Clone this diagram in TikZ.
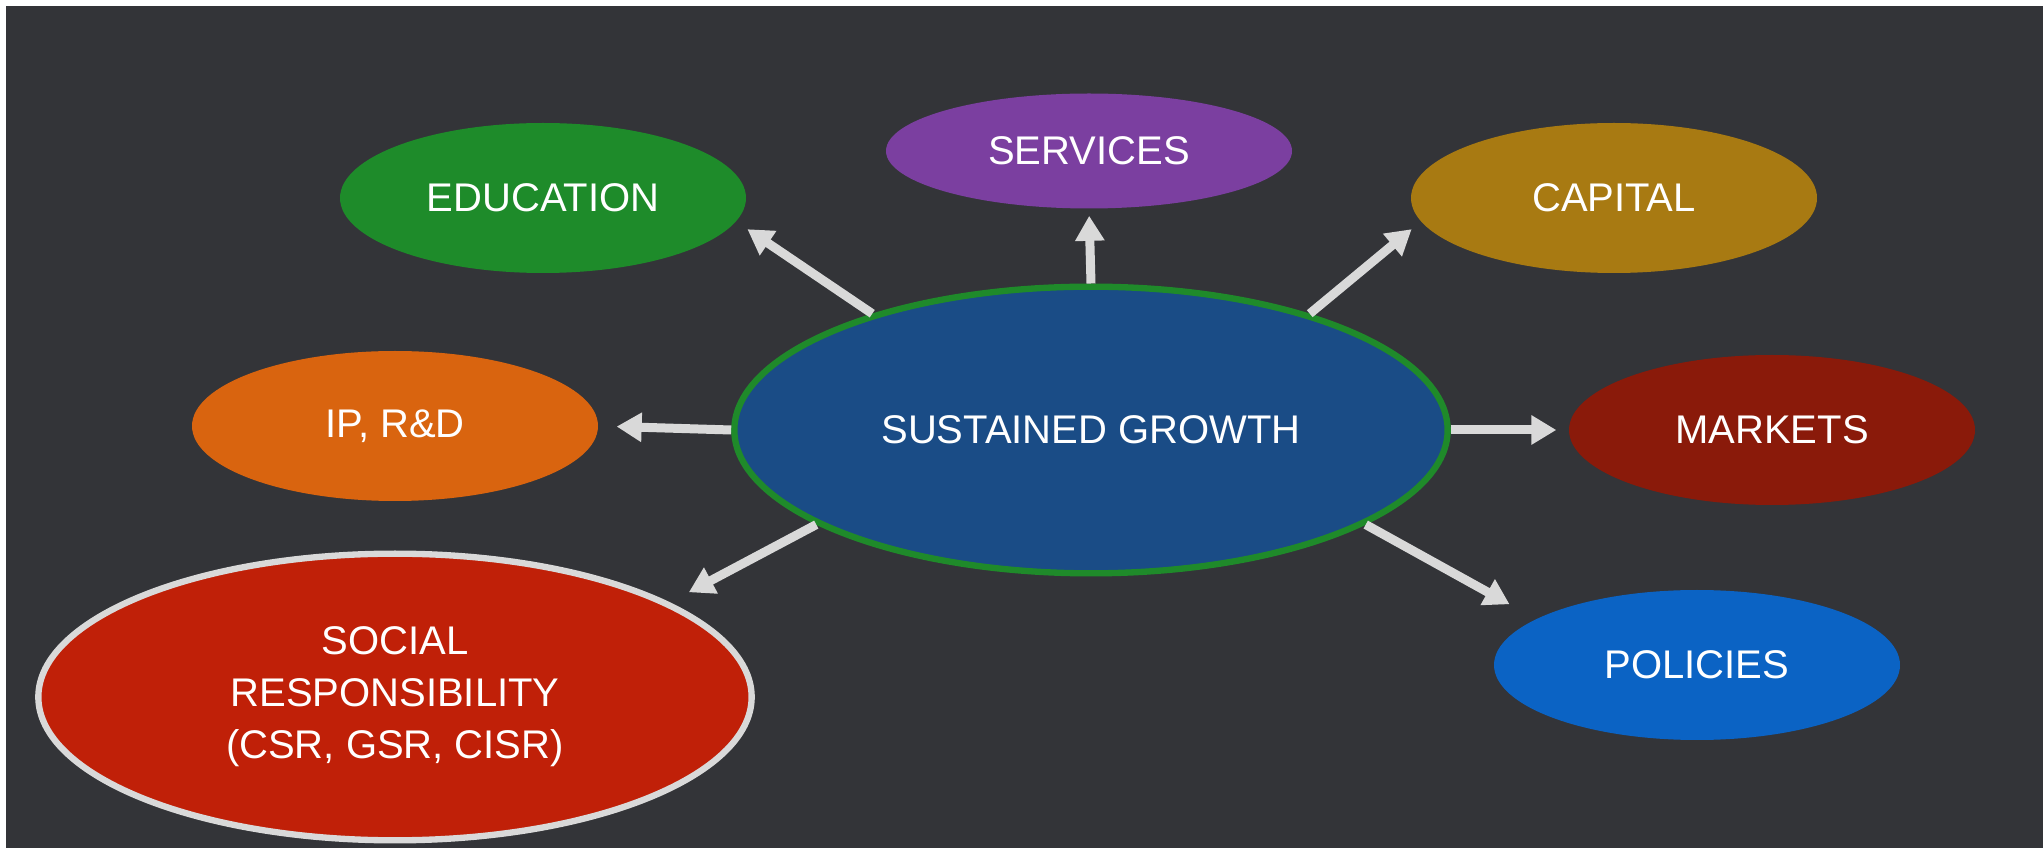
\documentclass[tikz,border=0pt]{standalone}
\usepackage{fontspec}
\setmainfont{Liberation Sans}
\usetikzlibrary{shapes.geometric}
\usetikzlibrary{arrows.meta}

\begin{document}
\begin{tikzpicture}[x=0.3pt,y=-0.3pt,->,>={Triangle[length=7.5pt,width=8.4pt]},
	main node/.style={ellipse,inner sep=0pt,text=white,align=center,
		font=\fontsize{12}{15.6}\selectfont,minimum width=121.8pt,minimum height=45pt},
	big node/.style={main node,line width=1.9pt,minimum width=214pt,minimum height=86pt}]
	
	\definecolor{bg}{RGB}{51,52,56}
	\definecolor{arrowgray}{RGB}{217,217,217}
	\definecolor{sgfill}{RGB}{26,76,134}
	\definecolor{sgrim}{RGB}{31,138,42}
	\definecolor{services}{RGB}{123,63,160}
	\definecolor{education}{RGB}{30,139,42}
	\definecolor{capital}{RGB}{168,122,18}
	\definecolor{iprd}{RGB}{217,100,15}
	\definecolor{markets}{RGB}{138,26,10}
	\definecolor{policies}{RGB}{11,99,196}
	\definecolor{social}{RGB}{192,32,8}
	
	\fill[white] (0,0) rectangle (2043,848);
	\fill[bg] (6,6) rectangle (2043,848);
	
	\node[big node, draw=sgrim, fill=sgfill] (sg) at (1091,430) {SUSTAINED GROWTH};
	\node[main node, fill=services, minimum height=34.5pt] (srv) at (1089,151) {SERVICES};
	\node[main node, fill=education] (edu) at (543,198) {EDUCATION};
	\node[main node, fill=capital] (cap) at (1614,198) {CAPITAL};
	\node[main node, fill=iprd] (ip) at (395,426) {IP, R\&D};
	\node[main node, fill=markets] (mkt) at (1772,430) {MARKETS};
	\node[main node, fill=policies] (pol) at (1697,665) {POLICIES};
	\node[big node, draw=arrowgray, fill=social] (csr) at (395,697) {SOCIAL\\RESPONSIBILITY\\(CSR, GSR, CISR)};
	
	\path[color=arrowgray, line width=2.7pt]
	(sg.152) edge[shorten >=4pt] (edu.-7)
	(sg.90) edge[shorten >=2pt] (srv.-90)
	(sg.28) edge[shorten >=3.5pt] (cap.187)
	(sg.180) edge[shorten >=5.4pt] (ip.0)
	(sg.0) edge[shorten >=3.6pt] (mkt.180)
	(sg.199) edge[shorten >=6.5pt] (csr.19)
	(sg.-19) edge[shorten >=9pt] (pol.164);
\end{tikzpicture}
\end{document}
